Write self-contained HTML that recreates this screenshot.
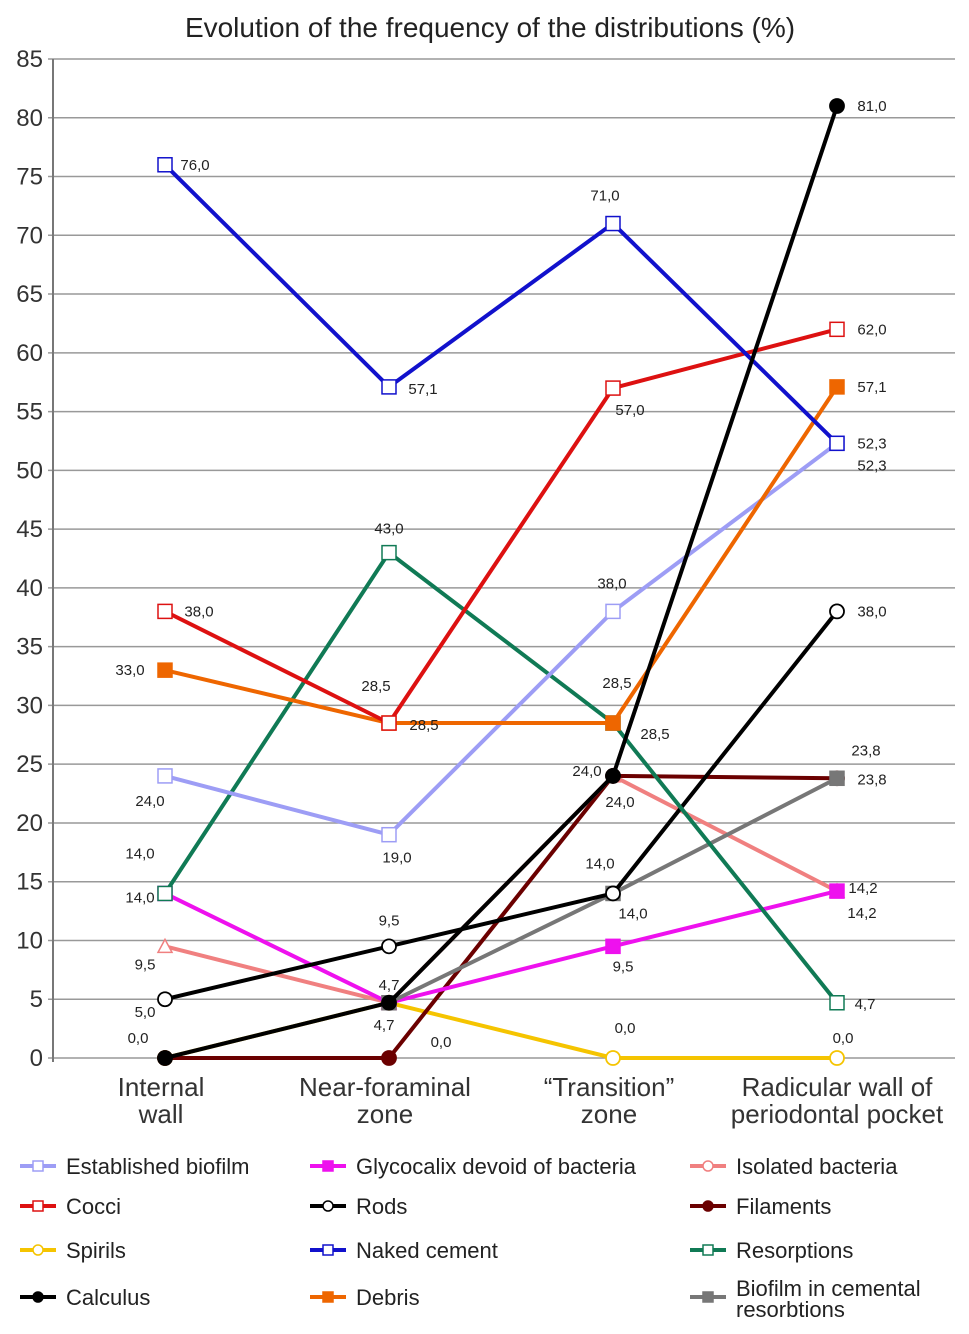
<!DOCTYPE html>
<html><head><meta charset="utf-8"><style>
body{margin:0;background:#fff;}
svg{display:block;font-family:"Liberation Sans",sans-serif;}
</style></head><body>
<svg id="c" width="969" height="1334"></svg>
<script>
const categories=[["Internal","wall"],["Near-foraminal","zone"],["\u201CTransition\u201D","zone"],["Radicular wall of","periodontal pocket"]];
const yTicks=[0,5,10,15,20,25,30,35,40,45,50,55,60,65,70,75,80,85];
const seriesNames=["Established biofilm","Glycocalix devoid of bacteria","Isolated bacteria","Cocci","Rods","Filaments","Spirils","Naked cement","Resorptions","Calculus","Debris","Biofilm in cemental resorbtions"];
const vEst=[24,19,38,52.3];
const vGly=[14,4.7,9.5,14.2];
const vIso=[9.5,4.7,24,14.2];
const vCoc=[38,28.5,57,62];
const vRod=[5,9.5,14,38];
const vFil=[0,0,24,23.8];
const vSpi=[0,4.7,0,0];
const vNak=[76,57.1,71,52.3];
const vRes=[14,43,28.5,4.7];
const vCal=[0,4.7,24,81];
const vDeb=[33,28.5,28.5,57.1];
const vBio=[null,4.7,14,23.8];
const seriesValues=[vEst,vGly,vIso,vCoc,vRod,vFil,vSpi,vNak,vRes,vCal,vDeb,vBio];
const colors=["#9d9df5","#ee11ee","#f08080","#dd1111","#000000","#6b0000","#f5c400","#1111cc","#107a55","#000000","#ee6600","#777777"];
const markers=["osq","fsq","otri","osq","ocirc","fcirc","ocirc","osq","osq","fcirc","fsq","fsq"];
// label placements: [series, point, dx, dy]
const labels=[[7,0,30,0],[3,0,34,0],[10,0,-35,0],[0,0,-15,25],[8,0,-25,-40],[1,0,-25,4],[2,0,-20,18],[4,0,-20,13],[9,0,-27,-20],
[7,1,34,2],[8,1,0,-24],[3,1,-13,-37],[10,1,35,2],[0,1,8,23],[4,1,0,-26],[9,1,0,-18],[1,1,-5,22],[5,1,52,-16],
[7,2,-8,-28],[3,2,17,22],[0,2,-1,-28],[10,2,4,-40],[8,2,42,11],[5,2,-26,-5],[9,2,7,26],[4,2,-13,-30],[11,2,20,20],[1,2,10,20],[6,2,12,-30],
[9,3,35,0],[3,3,35,0],[10,3,35,0],[0,3,35,0],[7,3,35,22],[4,3,35,0],[5,3,29,-28],[11,3,35,1],[2,3,26,-3],[1,3,25,22],[8,3,28,1],[6,3,6,-20]];
const S="http://www.w3.org/2000/svg";
const svg=document.getElementById('c');
const X0=165,DX=224,Y0=1058,YK=(1058-59)/85;
const xs=i=>X0+i*DX, ys=v=>Y0-v*YK;
function el(t,a,p){const e=document.createElementNS(S,t);for(const k in a)e.setAttribute(k,a[k]);(p||svg).appendChild(e);return e;}
const t=el('text',{x:490,y:37,'text-anchor':'middle','font-size':28,fill:'#222'});t.textContent="Evolution of the frequency of the distributions (%)";


yTicks.forEach(v=>{
 const g=el('line',{x1:48,x2:955,y1:ys(v),y2:ys(v),stroke:'#999','stroke-width':1.5});
 
 
 const l=el('text',{x:43,y:ys(v)+8,'text-anchor':'end','font-size':24,fill:'#333'});l.textContent=v;
 
 
});
const ax=el('line',{x1:53,x2:53,y1:59,y2:1062,stroke:'#777','stroke-width':2});


categories.forEach((c,i)=>{
 c.forEach((s,j)=>{const l=el('text',{x:xs(i)-4+(i==3?4:0),y:1096+j*27,'text-anchor':'middle','font-size':26,fill:'#333'});l.textContent=s;
 
 });
});
function marker(kind,x,y,col,p){
 let m;
 if(kind=='osq'||kind=='fsq') m=el('rect',{x:x-7,y:y-7,width:14,height:14,fill:kind=='fsq'?col:'#fff',stroke:col,'stroke-width':1.5},p);
 else if(kind=='otri') m=el('path',{d:`M${x},${y-7}L${x+7},${y+6}L${x-7},${y+6}Z`,fill:'#fff',stroke:col,'stroke-width':1.5},p);
 else m=el('circle',{cx:x,cy:y,r:7,fill:kind=='fcirc'?col:'#fff',stroke:col,'stroke-width':1.8},p);
 return m;
}
const order=[6,5,2,1,11,4,8,0,10,3,7,9];
order.forEach(si=>{
 const vals=seriesValues[si];
 const g=el('g',{});
 
 
 const pts=vals.map((v,i)=>v==null?null:[xs(i),ys(v)]).filter(p=>p);
 const pl=el('polyline',{points:pts.map(p=>p.join(',')).join(' '),fill:'none',stroke:colors[si],'stroke-width':4},g);
 
 
 pts.forEach(p=>{const m=marker(markers[si],p[0],p[1],colors[si],g);
  
  });
});
labels.forEach(([s,i,dx,dy])=>{
 const v=seriesValues[s][i];
 const l=el('text',{x:xs(i)+dx,y:ys(v)+dy+5,'text-anchor':'middle','font-size':15,fill:'#222'});
 l.textContent=v.toFixed(1).replace('.',',');
 
 
});
const lx=[20,310,690],ly=[1166,1206,1250,1297];
seriesNames.forEach((n,k)=>{
 const x=lx[k%3],y=ly[Math.floor(k/3)];
 const g=el('g',{});
 
 
 el('line',{x1:x,x2:x+36,y1:y,y2:y,stroke:colors[k],'stroke-width':4},g);
 const mk=markers[k];
 if(mk.endsWith('sq')) el('rect',{x:x+13,y:y-5,width:10,height:10,fill:mk=='fsq'?colors[k]:'#fff',stroke:colors[k],'stroke-width':1.5},g);
 else el('circle',{cx:x+18,cy:y,r:5,fill:mk=='fcirc'?colors[k]:'#fff',stroke:colors[k],'stroke-width':1.5},g);
 if(k==11){
  const a=el('text',{x:x+46,y:y-1,'font-size':22,fill:'#222'},g);a.textContent="Biofilm in cemental";
  const b=el('text',{x:x+46,y:y+20,'font-size':22,fill:'#222'},g);b.textContent="resorbtions";
 } else {
  const a=el('text',{x:x+46,y:y+8,'font-size':22,fill:'#222'},g);a.textContent=n;
 }
});
</script>
</body></html>
